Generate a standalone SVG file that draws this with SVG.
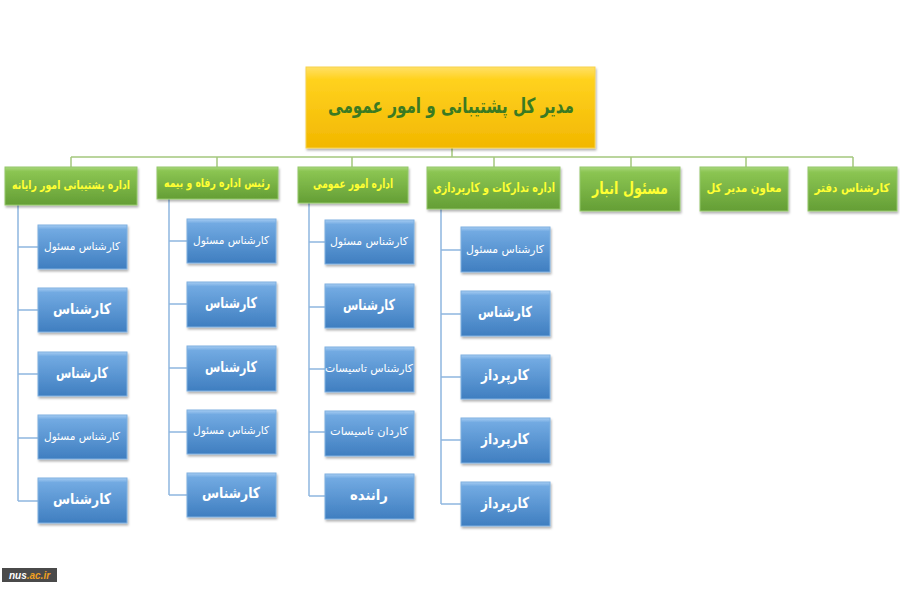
<svg xmlns="http://www.w3.org/2000/svg" width="900" height="593" viewBox="0 0 900 593">
<defs>
<linearGradient id="gY" x1="0" y1="0" x2="0" y2="1">
<stop offset="0" stop-color="#FFE066"/><stop offset="0.15" stop-color="#FFD21F"/><stop offset="1" stop-color="#F2B700"/>
</linearGradient>
<linearGradient id="gG" x1="0" y1="0" x2="0" y2="1">
<stop offset="0" stop-color="#A9D77C"/><stop offset="0.12" stop-color="#8BC552"/><stop offset="1" stop-color="#649E35"/>
</linearGradient>
<linearGradient id="gB" x1="0" y1="0" x2="0" y2="1">
<stop offset="0" stop-color="#A6CCF2"/><stop offset="0.1" stop-color="#72AAE2"/><stop offset="1" stop-color="#3F7EC0"/>
</linearGradient>
<filter id="sh" x="-10%" y="-10%" width="130%" height="140%">
<feDropShadow dx="1" dy="2" stdDeviation="1.2" flood-color="#000" flood-opacity="0.3"/>
</filter>
</defs>
<style>
.top{fill:url(#gY);stroke:#F7D24A;stroke-width:1;filter:url(#sh)}
.grn{fill:url(#gG);stroke:#93C76A;stroke-width:1;filter:url(#sh)}
.blu{fill:url(#gB);stroke:#7FB0E0;stroke-width:1;filter:url(#sh)}
.t{font-family:"DejaVu Sans",sans-serif;text-anchor:middle;dominant-baseline:central;direction:rtl}
.tt{fill:#3B7A22;font-weight:bold;font-size:21px}
.tg{fill:#FFFF33;font-weight:bold;font-size:13px}
.tgs{fill:#FFFF33;font-weight:bold;font-size:12px}
.tgb{fill:#FFFF33;font-weight:bold;font-size:17px}
.tb{fill:#FFFFFF;font-size:11px}
.tb2{fill:#FFFFFF;font-size:11px}
.tbb{fill:#FFFFFF;font-weight:bold;font-size:15px}
.lg{stroke:#A4C77E;stroke-width:1.5;fill:none}
.lb{stroke:#8FB6E0;stroke-width:1.5;fill:none}
</style>
<rect width="900" height="593" fill="#FFFFFF"/>
<g id="connectors">
<path class="lg" d="M452 148V157M71 157H853M71 157V167M217 157V167M352 157V167M494 157V167M631 157V167M746 157V167M853 157V167"/>
<path class="lb" d="M18 205V501M18 247H38M18 310H38M18 374H38M18 438H38M18 501H38"/>
<path class="lb" d="M169 199V495M169 241H187M169 304H187M169 368H187M169 432H187M169 495H187"/>
<path class="lb" d="M309 203V496M309 242H325M309 307H325M309 369H325M309 432H325M309 496H325"/>
<path class="lb" d="M441 209V504M441 250H461M441 314H461M441 377H461M441 440H461M441 504H461"/>
</g>
<g id="n-top"><rect class="top" x="306" y="67" width="289" height="81"/><text class="t tt" x="451" y="106" textLength="246" lengthAdjust="spacingAndGlyphs">مدیر کل پشتیبانی و امور عمومی</text></g>
<g id="n-g1"><rect class="grn" x="5" y="167" width="132" height="38"/><text class="t tgs" x="71" y="185" textLength="118" lengthAdjust="spacingAndGlyphs">اداره پشتیبانی امور رایانه</text></g>
<g id="n-g2"><rect class="grn" x="157" y="167" width="121" height="32"/><text class="t tgs" x="217" y="183" textLength="106" lengthAdjust="spacingAndGlyphs">رئیس اداره رفاه و بیمه</text></g>
<g id="n-g3"><rect class="grn" x="298" y="167" width="110" height="36"/><text class="t tg" x="353" y="183" textLength="80" lengthAdjust="spacingAndGlyphs">اداره امور عمومی</text></g>
<g id="n-g4"><rect class="grn" x="427" y="167" width="133" height="42"/><text class="t tg" x="494" y="187" textLength="122" lengthAdjust="spacingAndGlyphs">اداره تدارکات و کارپردازی</text></g>
<g id="n-g5"><rect class="grn" x="580" y="167" width="100" height="44"/><text class="t tgb" x="630" y="188" textLength="76" lengthAdjust="spacingAndGlyphs">مسئول انبار</text></g>
<g id="n-g6"><rect class="grn" x="700" y="167" width="88" height="44"/><text class="t tgs" x="744" y="188" textLength="75" lengthAdjust="spacingAndGlyphs">معاون مدیر کل</text></g>
<g id="n-g7"><rect class="grn" x="808" y="167" width="89" height="44"/><text class="t tgs" x="852" y="188" textLength="75" lengthAdjust="spacingAndGlyphs">کارشناس دفتر</text></g>
<g id="n-c1a"><rect class="blu" x="38" y="225" width="89" height="44"/><text class="t tb" x="82" y="246" textLength="76" lengthAdjust="spacingAndGlyphs">کارشناس مسئول</text></g>
<g id="n-c1b"><rect class="blu" x="38" y="288" width="89" height="44"/><text class="t tbb" x="82" y="309" textLength="58" lengthAdjust="spacingAndGlyphs">کارشناس</text></g>
<g id="n-c1c"><rect class="blu" x="38" y="352" width="89" height="44"/><text class="t tbb" x="82" y="373" textLength="52" lengthAdjust="spacingAndGlyphs">کارشناس</text></g>
<g id="n-c1d"><rect class="blu" x="38" y="415" width="89" height="44"/><text class="t tb" x="82" y="436" textLength="76" lengthAdjust="spacingAndGlyphs">کارشناس مسئول</text></g>
<g id="n-c1e"><rect class="blu" x="38" y="478" width="89" height="45"/><text class="t tbb" x="82" y="499" textLength="58" lengthAdjust="spacingAndGlyphs">کارشناس</text></g>
<g id="n-c2a"><rect class="blu" x="187" y="219" width="89" height="44"/><text class="t tb" x="231" y="240" textLength="76" lengthAdjust="spacingAndGlyphs">کارشناس مسئول</text></g>
<g id="n-c2b"><rect class="blu" x="187" y="282" width="89" height="45"/><text class="t tbb" x="231" y="303" textLength="52" lengthAdjust="spacingAndGlyphs">کارشناس</text></g>
<g id="n-c2c"><rect class="blu" x="187" y="346" width="89" height="45"/><text class="t tbb" x="231" y="367" textLength="52" lengthAdjust="spacingAndGlyphs">کارشناس</text></g>
<g id="n-c2d"><rect class="blu" x="187" y="410" width="89" height="44"/><text class="t tb" x="231" y="430" textLength="76" lengthAdjust="spacingAndGlyphs">کارشناس مسئول</text></g>
<g id="n-c2e"><rect class="blu" x="187" y="473" width="89" height="44"/><text class="t tbb" x="231" y="493" textLength="58" lengthAdjust="spacingAndGlyphs">کارشناس</text></g>
<g id="n-c3a"><rect class="blu" x="325" y="220" width="89" height="44"/><text class="t tb" x="369" y="241" textLength="78" lengthAdjust="spacingAndGlyphs">کارشناس مسئول</text></g>
<g id="n-c3b"><rect class="blu" x="325" y="284" width="89" height="44"/><text class="t tbb" x="369" y="305" textLength="52" lengthAdjust="spacingAndGlyphs">کارشناس</text></g>
<g id="n-c3c"><rect class="blu" x="325" y="347" width="89" height="45"/><text class="t tb2" x="369" y="368" textLength="88" lengthAdjust="spacingAndGlyphs">کارشناس تاسیسات</text></g>
<g id="n-c3d"><rect class="blu" x="325" y="411" width="89" height="45"/><text class="t tb2" x="369" y="431" textLength="78" lengthAdjust="spacingAndGlyphs">کاردان تاسیسات</text></g>
<g id="n-c3e"><rect class="blu" x="325" y="474" width="89" height="45"/><text class="t tbb" x="369" y="495" textLength="38" lengthAdjust="spacingAndGlyphs">راننده</text></g>
<g id="n-c4a"><rect class="blu" x="461" y="227" width="89" height="45"/><text class="t tb" x="505" y="249" textLength="78" lengthAdjust="spacingAndGlyphs">کارشناس مسئول</text></g>
<g id="n-c4b"><rect class="blu" x="461" y="291" width="89" height="45"/><text class="t tbb" x="505" y="312" textLength="54" lengthAdjust="spacingAndGlyphs">کارشناس</text></g>
<g id="n-c4c"><rect class="blu" x="461" y="355" width="89" height="44"/><text class="t tbb" x="505" y="375" textLength="48" lengthAdjust="spacingAndGlyphs">کارپرداز</text></g>
<g id="n-c4d"><rect class="blu" x="461" y="418" width="89" height="45"/><text class="t tbb" x="505" y="439" textLength="48" lengthAdjust="spacingAndGlyphs">کارپرداز</text></g>
<g id="n-c4e"><rect class="blu" x="461" y="482" width="89" height="44"/><text class="t tbb" x="505" y="503" textLength="48" lengthAdjust="spacingAndGlyphs">کارپرداز</text></g>
<g id="watermark"><rect x="2" y="568" width="55" height="14" fill="#4A4A4A"/><text x="29.5" y="575" font-family="Liberation Sans, sans-serif" font-size="10" font-weight="bold" font-style="italic" text-anchor="middle" dominant-baseline="central"><tspan fill="#FFFFFF">nus</tspan><tspan fill="#F0A020">.ac.ir</tspan></text></g>
</svg>
